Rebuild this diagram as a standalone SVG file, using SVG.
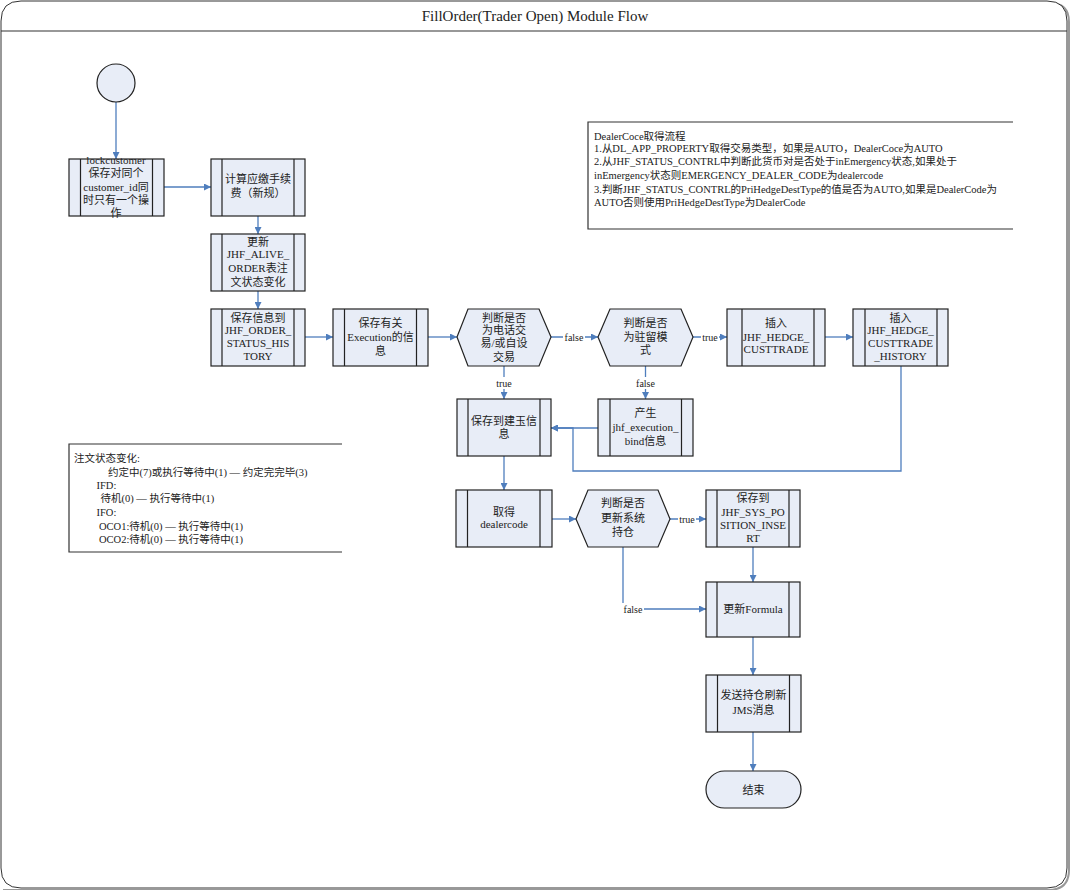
<svg xmlns="http://www.w3.org/2000/svg" width="1070" height="890" viewBox="0 0 1070 890">
<style>
text{font-family:"Liberation Serif","Noto Sans CJK SC",serif;fill:#222;}
.t{font-size:11px;text-anchor:middle;}
.lbl{font-size:10px;text-anchor:middle;}
.note{font-size:10.5px;}
.box{fill:#E8EDF7;stroke:#222;stroke-width:1.2;}
.bar{stroke:#222;stroke-width:1.2;fill:none;}
.con{fill:none;stroke:#4F7EBD;stroke-width:1.3;}
.lb{fill:#fff;}
</style>
<defs>
<marker id="ah" viewBox="0 0 10 10" refX="10" refY="5" markerWidth="7" markerHeight="7" orient="auto" markerUnits="userSpaceOnUse">
<path d="M0,0 L10,5 L0,10 z" fill="#4F7EBD"/>
</marker>
</defs>
<rect x="0" y="0" width="1070" height="890" fill="#fff"/>
<g id="frame">
<path d="M3,890 H1048 Q1069,890 1069,870 V22 Q1069,3 1050,3" fill="none" stroke="#999" stroke-width="2"/>
<path d="M21,1 H1047 Q1067,1 1067,21 V868 Q1067,888 1047,888 H21 Q1,888 1,868 V21 Q1,1 21,1 Z" fill="#fff" stroke="#333" stroke-width="1"/>
<line x1="1" y1="31" x2="1067" y2="31" stroke="#333" stroke-width="1.2"/>
<text x="535" y="21" style="font-size:15px;text-anchor:middle;">FillOrder(Trader Open) Module Flow</text>
</g>
<g id="connectors">
<line class="con" x1="116" y1="102" x2="116" y2="159" marker-end="url(#ah)"/>
<line class="con" x1="164" y1="187" x2="211" y2="187" marker-end="url(#ah)"/>
<line class="con" x1="258" y1="216" x2="258" y2="234" marker-end="url(#ah)"/>
<line class="con" x1="258" y1="291" x2="258" y2="309" marker-end="url(#ah)"/>
<line class="con" x1="305" y1="337" x2="333" y2="337" marker-end="url(#ah)"/>
<line class="con" x1="428" y1="337" x2="457" y2="337" marker-end="url(#ah)"/>
<line class="con" x1="551" y1="337" x2="598" y2="337" marker-end="url(#ah)"/>
<line class="con" x1="693" y1="337" x2="727" y2="337" marker-end="url(#ah)"/>
<line class="con" x1="825" y1="337" x2="853" y2="337" marker-end="url(#ah)"/>
<line class="con" x1="504" y1="366" x2="504" y2="399" marker-end="url(#ah)"/>
<line class="con" x1="645.5" y1="366" x2="645.5" y2="399" marker-end="url(#ah)"/>
<line class="con" x1="598" y1="428" x2="551" y2="428" marker-end="url(#ah)"/>
<polyline class="con" points="901,366 901,471 573,471 573,428 551,428" marker-end="url(#ah)"/>
<line class="con" x1="504" y1="456" x2="504" y2="490" marker-end="url(#ah)"/>
<line class="con" x1="552" y1="519" x2="576" y2="519" marker-end="url(#ah)"/>
<line class="con" x1="670" y1="519" x2="706" y2="519" marker-end="url(#ah)"/>
<line class="con" x1="753" y1="547" x2="753" y2="582" marker-end="url(#ah)"/>
<polyline class="con" points="623,547 623,609 706,609" marker-end="url(#ah)"/>
<line class="con" x1="753" y1="637" x2="753" y2="675" marker-end="url(#ah)"/>
<line class="con" x1="753" y1="732" x2="753" y2="771" marker-end="url(#ah)"/>
<rect class="lb" x="563" y="331" width="22" height="12"/>
<text class="lbl" x="574" y="341">false</text>
<rect class="lb" x="701" y="331" width="18" height="12"/>
<text class="lbl" x="710" y="341">true</text>
<rect class="lb" x="495" y="377" width="18" height="12"/>
<text class="lbl" x="504" y="387">true</text>
<rect class="lb" x="634.5" y="377" width="22" height="12"/>
<text class="lbl" x="645.5" y="387">false</text>
<rect class="lb" x="678" y="513" width="18" height="12"/>
<text class="lbl" x="687" y="523">true</text>
<rect class="lb" x="622" y="603" width="22" height="12"/>
<text class="lbl" x="633" y="613">false</text>
</g>
<g id="start">
<circle cx="116" cy="83" r="19" class="box"/>
</g>
<g id="lockcustomer">
<rect class="box" x="69" y="159" width="95" height="57"/>
<path class="bar" d="M80.5,159 V216 M152.5,159 V216"/>
<text class="t" x="116" y="164">lockcustomer</text>
<text class="t" x="116" y="177">保存对同个</text>
<text class="t" x="116" y="190.5">customer_id同</text>
<text class="t" x="116" y="204">时只有一个操</text>
<text class="t" x="116" y="217">作</text>
</g>
<g id="calcfee">
<rect class="box" x="211" y="159" width="94" height="57"/>
<path class="bar" d="M222,159 V216 M294,159 V216"/>
<text class="t" x="258" y="183">计算应缴手续</text>
<text class="t" x="258" y="197">费（新规）</text>
</g>
<g id="updatealive">
<rect class="box" x="211" y="234" width="94" height="57"/>
<path class="bar" d="M222,234 V291 M294,234 V291"/>
<text class="t" x="258" y="245.5">更新</text>
<text class="t" x="258" y="258">JHF_ALIVE_</text>
<text class="t" x="258" y="272">ORDER表注</text>
<text class="t" x="258" y="285.5">文状态变化</text>
</g>
<g id="savehistory">
<rect class="box" x="211" y="309" width="94" height="57"/>
<path class="bar" d="M222,309 V366 M294,309 V366"/>
<text class="t" x="258" y="322">保存信息到</text>
<text class="t" x="258" y="334">JHF_ORDER_</text>
<text class="t" x="258" y="347">STATUS_HIS</text>
<text class="t" x="258" y="360">TORY</text>
</g>
<g id="saveexecution">
<rect class="box" x="333" y="309" width="95" height="57"/>
<path class="bar" d="M344.5,309 V366 M416.5,309 V366"/>
<text class="t" x="380.5" y="327.3">保存有关</text>
<text class="t" x="380.5" y="341.3">Execution的信</text>
<text class="t" x="380.5" y="355">息</text>
</g>
<g id="decision1">
<polygon class="box" points="457,337 468,309 539,309 551,337 539,366 468,366"/>
<text class="t" x="504" y="321.7">判断是否</text>
<text class="t" x="504" y="334">为电话交</text>
<text class="t" x="504" y="347.3">易/或自设</text>
<text class="t" x="504" y="360.7">交易</text>
</g>
<g id="decision2">
<polygon class="box" points="598,337 610,309 681,309 693,337 681,366 610,366"/>
<text class="t" x="645.5" y="327">判断是否</text>
<text class="t" x="645.5" y="340.7">为驻留模</text>
<text class="t" x="645.5" y="354">式</text>
</g>
<g id="inserthedge">
<rect class="box" x="727" y="309" width="98" height="57"/>
<path class="bar" d="M742,309 V366 M814,309 V366"/>
<text class="t" x="776" y="327.3">插入</text>
<text class="t" x="776" y="340.7">JHF_HEDGE_</text>
<text class="t" x="776" y="353">CUSTTRADE</text>
</g>
<g id="inserthedgehistory">
<rect class="box" x="853" y="309" width="95" height="57"/>
<path class="bar" d="M865,309 V366 M937,309 V366"/>
<text class="t" x="900.5" y="321.7">插入</text>
<text class="t" x="900.5" y="334">JHF_HEDGE_</text>
<text class="t" x="900.5" y="347.3">CUSTTRADE</text>
<text class="t" x="900.5" y="360">_HISTORY</text>
</g>
<g id="saveposition">
<rect class="box" x="457" y="399" width="94" height="57"/>
<path class="bar" d="M468,399 V456 M540,399 V456"/>
<text class="t" x="504" y="425">保存到建玉信</text>
<text class="t" x="504" y="438.3">息</text>
</g>
<g id="executionbind">
<rect class="box" x="598" y="399" width="95" height="57"/>
<path class="bar" d="M610,399 V456 M681.5,399 V456"/>
<text class="t" x="645.5" y="417.3">产生</text>
<text class="t" x="645.5" y="430.7">jhf_execution_</text>
<text class="t" x="645.5" y="444.7">bind信息</text>
</g>
<g id="getdealercode">
<rect class="box" x="456" y="490" width="96" height="57"/>
<path class="bar" d="M467.5,490 V547 M540,490 V547"/>
<text class="t" x="504" y="515.7">取得</text>
<text class="t" x="504" y="528.3">dealercode</text>
</g>
<g id="decision3">
<polygon class="box" points="576,519 588,490 658,490 670,519 658,547 588,547"/>
<text class="t" x="623" y="507.3">判断是否</text>
<text class="t" x="623" y="521.7">更新系统</text>
<text class="t" x="623" y="535.7">持仓</text>
</g>
<g id="sysposition">
<rect class="box" x="706" y="490" width="94" height="57"/>
<path class="bar" d="M717,490 V547 M789,490 V547"/>
<text class="t" x="753" y="502.3">保存到</text>
<text class="t" x="753" y="515.7">JHF_SYS_PO</text>
<text class="t" x="753" y="529">SITION_INSE</text>
<text class="t" x="753" y="541.7">RT</text>
</g>
<g id="updateformula">
<rect class="box" x="706" y="582" width="94" height="55"/>
<path class="bar" d="M717,582 V637 M789,582 V637"/>
<text class="t" x="753" y="613">更新Formula</text>
</g>
<g id="sendjms">
<rect class="box" x="706" y="675" width="95" height="57"/>
<path class="bar" d="M717.5,675 V732 M789.5,675 V732"/>
<text class="t" x="753.5" y="699">发送持仓刷新</text>
<text class="t" x="753.5" y="714">JMS消息</text>
</g>
<g id="end">
<rect class="box" x="706" y="771" width="95" height="37" rx="18.5" ry="18.5"/>
<text class="t" x="753.5" y="794">结束</text>
</g>
<g id="note-dealercode">
<path d="M1013,122 H588 V229 H1013" fill="none" stroke="#333" stroke-width="1.2"/>
<text class="note" x="594" y="139.5">DealerCoce取得流程</text>
<text class="note" x="594" y="152">1.从DL_APP_PROPERTY取得交易类型，如果是AUTO，DealerCoce为AUTO</text>
<text class="note" x="594" y="165">2.从JHF_STATUS_CONTRL中判断此货币对是否处于inEmergency状态,如果处于</text>
<text class="note" x="594" y="179">inEmergency状态则EMERGENCY_DEALER_CODE为dealercode</text>
<text class="note" x="594" y="193">3.判断JHF_STATUS_CONTRL的PriHedgeDestType的值是否为AUTO,如果是DealerCode为</text>
<text class="note" x="594" y="206">AUTO否则使用PriHedgeDestType为DealerCode</text>
</g>
<g id="note-status">
<path d="M342,444 H69 V552 H342" fill="none" stroke="#333" stroke-width="1.2"/>
<text class="note" x="74" y="462">注文状态变化:</text>
<text class="note" x="108" y="475.5">约定中(7)或执行等待中(1) — 约定完完毕(3)</text>
<text class="note" x="96.5" y="489">IFD:</text>
<text class="note" x="100.5" y="502">待机(0) — 执行等待中(1)</text>
<text class="note" x="96.5" y="516">IFO:</text>
<text class="note" x="99" y="529.5">OCO1:待机(0) — 执行等待中(1)</text>
<text class="note" x="99" y="543">OCO2:待机(0) — 执行等待中(1)</text>
</g>
</svg>
